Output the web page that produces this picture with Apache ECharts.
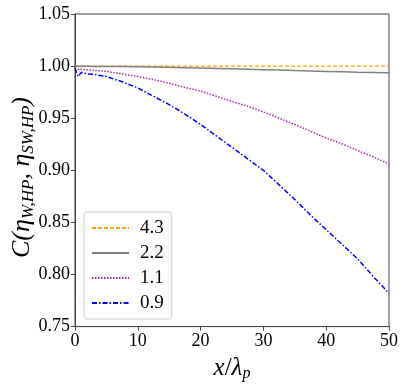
<!DOCTYPE html>
<html>
<head>
<meta charset="utf-8">
<script src="https://cdn.jsdelivr.net/npm/echarts@6/dist/echarts.min.js"></script>
<style>
  html, body { margin: 0; padding: 0; background: #fff; }
  #chart { width: 407px; height: 387px; }
</style>
</head>
<body>
<div id="chart"></div>
<script>
// x positions (x / lambda_p)
var xs = [0, 0.5, 1, 2, 3, 5, 7.5, 10, 12.5, 15, 17.5, 20, 22.5, 25, 27.5, 30, 32.5, 35, 37.5, 40, 42.5, 45, 47.5, 50];
// correlation curves
var c43 = [1.0, 1.0, 1.0, 1.0, 1.0, 1.0, 1.0, 1.0, 1.0, 1.0, 1.0, 1.0, 1.0, 1.0, 1.0, 1.0, 1.0, 1.0, 1.0, 1.0, 1.0, 1.0, 1.0, 1.0];
var c22 = [0.9998, 0.9998, 0.9998, 0.9998, 0.9997, 0.9996, 0.9995, 0.9993, 0.9991, 0.9988, 0.9985, 0.9982, 0.9978, 0.9974, 0.997, 0.9966, 0.9962, 0.9957, 0.9953, 0.9949, 0.9945, 0.9941, 0.9938, 0.9935];
var c11 = [0.999, 0.997, 0.997, 0.9965, 0.996, 0.995, 0.9925, 0.990, 0.987, 0.9835, 0.9795, 0.976, 0.971, 0.966, 0.9615, 0.956, 0.950, 0.944, 0.9375, 0.931, 0.9255, 0.919, 0.913, 0.906];
var c09 = [0.998, 0.990, 0.994, 0.9925, 0.992, 0.990, 0.985, 0.979, 0.971, 0.963, 0.954, 0.944, 0.933, 0.922, 0.911, 0.900, 0.886, 0.872, 0.857, 0.843, 0.829, 0.815, 0.798, 0.782];
var names = ['4.3', '2.2', '1.1', '0.9'];

function pairs(ys) {
  return xs.map(function(x, i) { return [x, ys[i]]; });
}

var font = '"Liberation Serif", "DejaVu Serif", serif';
var chart = echarts.init(document.getElementById('chart'));

var option = {
  animation: false,
  grid: {
    left: 75, right: 18, top: 14, bottom: 60,
    show: true, borderColor: '#444', borderWidth: 1
  },
  legend: {
    orient: 'vertical',
    left: 84, top: 212,
    itemWidth: 37, itemHeight: 10, itemGap: 3,
    padding: [5, 8, 5, 7],
    backgroundColor: '#fff',
    borderColor: '#ccc', borderWidth: 1, borderRadius: 3,
    itemStyle: { opacity: 0 },
    textStyle: { fontFamily: font, fontSize: 19, lineHeight: 22, color: '#000', padding: [0, 0, 0, 6] },
    data: names
  },
  xAxis: {
    type: 'value', min: 0, max: 50, interval: 10,
    name: '{i|x}{n|/}{i|λ}{s|p}',
    nameLocation: 'middle', nameGap: 22,
    nameTextStyle: {
      rich: {
        i: { fontFamily: font, fontStyle: 'italic', fontSize: 25, color: '#000' },
        n: { fontFamily: font, fontSize: 25, color: '#000' },
        s: { fontFamily: font, fontStyle: 'italic', fontSize: 16, color: '#000', verticalAlign: 'bottom', padding: [12, 0, 0, 0] }
      }
    },
    axisLine: { lineStyle: { color: '#444', width: 1 } },
    axisTick: { length: 4, lineStyle: { color: '#444' } },
    axisLabel: { fontFamily: font, fontSize: 18, color: '#000', margin: 6 },
    splitLine: { show: false }
  },
  yAxis: {
    type: 'value', min: 0.75, max: 1.05, interval: 0.05,
    axisLine: { show: true, lineStyle: { color: '#444', width: 1 } },
    axisTick: { show: true, length: 4, lineStyle: { color: '#444' } },
    axisLabel: {
      fontFamily: font, fontSize: 18, color: '#000', margin: 5,
      formatter: function(v) { return v.toFixed(2); }
    },
    splitLine: { show: false }
  },
  graphic: [{
    type: 'text',
    x: 22, y: 258,
    rotation: Math.PI / 2,
    style: {
      text: '{a|C(η}{s|W,HP}{a|, η}{s|SW,HP}{a|)}',
      align: 'left', verticalAlign: 'middle',
      rich: {
        a: { fontFamily: font, fontStyle: 'italic', fontSize: 26, fill: '#000', lineHeight: 30 },
        s: { fontFamily: font, fontStyle: 'italic', fontSize: 17, fill: '#000', verticalAlign: 'bottom', lineHeight: 30, padding: [14, 0, 0, 0] }
      }
    }
  }],
  series: [{
    name: names[0], type: 'line', data: pairs(c43), symbol: 'none', z: 1,
    lineStyle: { color: '#ffa500', width: 1.4, type: [4, 2] },
    itemStyle: { color: '#ffa500' }
  }, {
    name: names[1], type: 'line', data: pairs(c22), symbol: 'none', z: 2,
    lineStyle: { color: '#808080', width: 1.5 },
    itemStyle: { color: '#808080' }
  }, {
    name: names[2], type: 'line', data: pairs(c11), symbol: 'none', z: 3,
    lineStyle: { color: '#a030a0', width: 1.5, type: [1.5, 1.5] },
    itemStyle: { color: '#a030a0' }
  }, {
    name: names[3], type: 'line', data: pairs(c09), symbol: 'none', z: 4,
    lineStyle: { color: '#0000ff', width: 1.5, type: [5, 2, 1.5, 2] },
    itemStyle: { color: '#0000ff' }
  }]
};

chart.setOption(option);
</script>
</body>
</html>
